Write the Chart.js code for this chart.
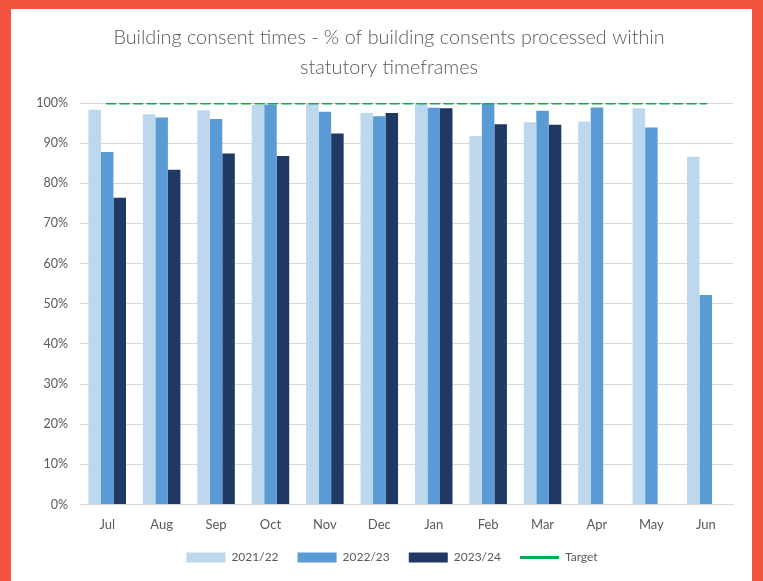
<!DOCTYPE html>
<html><head><meta charset="utf-8">
<script src="https://cdn.jsdelivr.net/npm/chart.js@4.4.1/dist/chart.umd.min.js"></script>
<style>
html,body{margin:0;padding:0;background:#F25440;width:763px;height:581px;overflow:hidden;}
#frame{position:absolute;left:11px;top:9px;width:741px;height:572px;background:#ffffff;}
canvas{display:block}
</style></head><body>
<div id="frame"><canvas id="c" width="741" height="572"></canvas></div>
<script>
const categories = ['Jul','Aug','Sep','Oct','Nov','Dec','Jan','Feb','Mar','Apr','May','Jun'];
const fy2122 = [98.3, 97.2, 98.2, 99.5, 99.9, 97.5, 99.9, 91.8, 95.2, 95.4, 98.7, 86.6];
const fy2223 = [87.8, 96.4, 96.0, 99.6, 97.8, 96.7, 98.8, 100, 98.1, 98.9, 93.9, 52.2];
const fy2324 = [76.4, 83.4, 87.4, 86.8, 92.4, 97.5, 98.7, 94.7, 94.6, null, null, null];
const target = [100, 100, 100, 100, 100, 100, 100, 100, 100, 100, 100, 100];
const yTicks = [0,10,20,30,40,50,60,70,80,90,100];

const FONT = 'Lato, "Liberation Sans", sans-serif';
const GREY = '#595959';

const shiftBoxes = {
  id: 'shiftBoxes',
  afterLayout(chart) {
    chart.titleBlock.left += 34;
    chart.legend.left += 40;
  }
};

new Chart(document.getElementById('c'), {
  data: {
    labels: categories,
    datasets: [
      { type: 'line', label: 'Target', data: target, borderColor: '#00B050', backgroundColor: '#00B050',
        borderWidth: 3.2, borderDash: [7.7, 5.8], borderCapStyle: 'round', pointRadius: 0, order: 0, pointStyle: 'line' },
      { type: 'bar', label: '2021/22', data: fy2122, backgroundColor: '#BDD7EE', borderWidth: 0, order: 1, pointStyle: 'rect' },
      { type: 'bar', label: '2022/23', data: fy2223, backgroundColor: '#5B9BD5', borderWidth: 0, order: 1, pointStyle: 'rect' },
      { type: 'bar', label: '2023/24', data: fy2324, backgroundColor: '#203864', borderWidth: 0, order: 1, pointStyle: 'rect' }
    ]
  },
  plugins: [shiftBoxes],
  options: {
    responsive: false,
    animation: false,
    layout: { padding: { left: 0, right: 19, top: 0, bottom: 7.5 } },
    datasets: { bar: { categoryPercentage: 0.69, barPercentage: 1.0 } },
    scales: {
      x: {
        grid: { display: false, drawTicks: false },
        border: { display: true, color: '#D9D9D9', width: 1 },
        ticks: { color: GREY, font: { family: FONT, size: 13 }, padding: 13 },
        afterFit: s => { s.height = 28; }
      },
      y: {
        min: 0, max: 100,
        afterBuildTicks: s => { s.ticks = yTicks.map(v => ({ value: v })); },
        grid: { color: '#D9D9D9', lineWidth: 1, drawTicks: false },
        border: { display: false },
        ticks: { color: GREY, font: { family: FONT, size: 12.5 }, padding: 12, callback: v => v + '%' },
        afterFit: s => { s.width = 69; }
      }
    },
    plugins: {
      title: {
        display: true,
        text: ['Building consent times - % of building consents processed within', 'statutory timeframes'],
        color: GREY,
        font: { family: FONT, size: 19.8, weight: 300, lineHeight: 1.5 },
        padding: { top: 14, bottom: 20.6 }
      },
      legend: {
        position: 'bottom',
        labels: {
          usePointStyle: true, pointStyleWidth: 39, boxHeight: 10,
          color: GREY, font: { family: FONT, size: 12 }, padding: 19,
          sort: (a, b) => (a.text === 'Target') - (b.text === 'Target')
        }
      },
      tooltip: { enabled: false }
    }
  }
});
</script>
</body></html>
